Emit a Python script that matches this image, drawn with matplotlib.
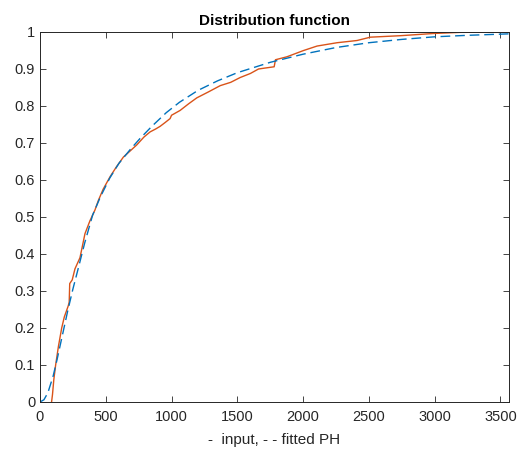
import matplotlib
matplotlib.use("Agg")
import matplotlib.pyplot as plt

input_x = [88, 95, 105, 119, 140, 165, 185, 203, 215, 222, 226, 245, 266, 285, 304,
           342, 380, 418, 444, 480, 533, 580, 634, 690, 736, 790, 837, 880, 913, 950,
           989, 1000, 1065, 1130, 1192, 1280, 1370, 1450, 1522, 1600, 1661, 1720, 1780,
           1790, 1877, 2004, 2106, 2258, 2410, 2511, 2740, 2993, 3196, 3565]
input_y = [0, 0.02, 0.06, 0.1, 0.15, 0.2, 0.23, 0.248, 0.26, 0.27, 0.32, 0.33, 0.36, 0.375, 0.39,
           0.455, 0.49, 0.519, 0.545, 0.575, 0.609, 0.635, 0.662, 0.68, 0.695, 0.716, 0.73, 0.738, 0.745, 0.755,
           0.766, 0.775, 0.788, 0.806, 0.822, 0.838, 0.855, 0.864, 0.877, 0.888, 0.9, 0.903, 0.906,
           0.925, 0.933, 0.95, 0.962, 0.971, 0.977, 0.986, 0.99, 0.996, 0.999, 1.0]

# fitted phase-type CDF
fit_x = [0, 30, 60, 100, 130, 170, 210, 250, 290, 340, 400, 460, 530, 600, 685, 760, 850,
         960, 1060, 1200, 1350, 1500, 1750, 2000, 2250, 2500, 2750, 3000, 3250, 3565]
fit_y = [0, 0.006, 0.025, 0.07, 0.115, 0.18, 0.245, 0.305, 0.36, 0.43, 0.505, 0.555, 0.605, 0.645,
         0.682, 0.712, 0.745, 0.782, 0.81, 0.842, 0.868, 0.89, 0.918, 0.94, 0.958, 0.971, 0.98,
         0.987, 0.991, 0.995]

x_ticks = [0, 500, 1000, 1500, 2000, 2500, 3000, 3500]
y_ticks = [0, 0.1, 0.2, 0.3, 0.4, 0.5, 0.6, 0.7, 0.8, 0.9, 1]

plt.rcParams["font.family"] = ["Liberation Sans", "DejaVu Sans"]
ink = "#262626"

fig = plt.figure(figsize=(5.18, 4.5), dpi=100)
ax = fig.add_axes([0.0772, 0.1067, 0.9054, 0.8222])

ax.plot(input_x, input_y, color="#D95319", lw=1.0)
ax.plot(fit_x, fit_y, color="#0072BD", lw=1.0, linestyle=(0, (7, 3.5)))

ax.set_xlim(0, 3565)
ax.set_ylim(0, 1)
ax.set_xticks(x_ticks)
ax.set_yticks(y_ticks)
ax.set_yticklabels(["0", "0.1", "0.2", "0.3", "0.4", "0.5", "0.6", "0.7", "0.8", "0.9", "1"])
ax.tick_params(direction="in", top=True, right=True, length=4, width=0.6,
               colors=ink, labelsize=10.5, labelcolor=ink)
ax.tick_params(axis="x", pad=6)
for s in ax.spines.values():
    s.set_color(ink)
    s.set_linewidth(0.7)

ax.set_title("Distribution function", fontsize=11, fontweight="bold", color="black", pad=5)
ax.set_xlabel("-  input, - - fitted PH", fontsize=11, color=ink, labelpad=6)

fig.savefig("out.png", dpi=100)
